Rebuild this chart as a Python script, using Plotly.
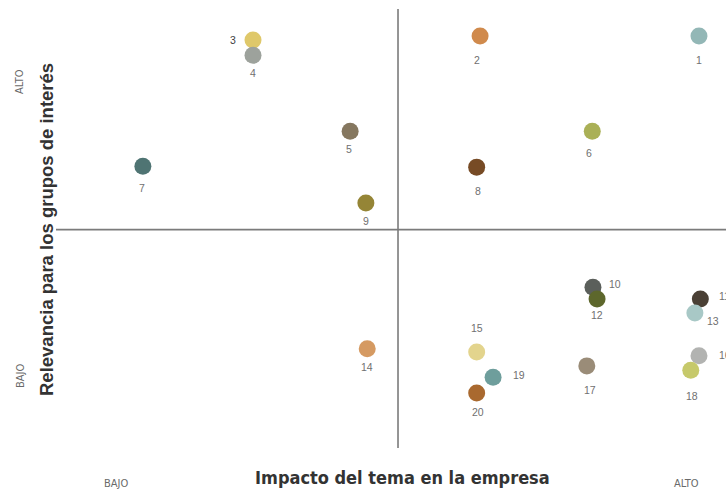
import plotly.graph_objects as go

# Materiality matrix: impact on the company (x) vs. relevance for stakeholders (y)
ids = [str(i) for i in range(1, 21)]
impacto = [9.40, 6.20, 2.88, 2.88, 4.30, 7.84, 1.27, 6.15, 4.53, 7.85,
           9.42, 7.91, 9.34, 4.55, 6.15, 9.40, 7.76, 9.28, 6.39, 6.15]
relevancia = [9.43, 9.43, 9.34, 8.99, 7.25, 7.25, 6.45, 6.43, 5.61, 3.68,
              3.41, 3.41, 3.09, 2.27, 2.20, 2.11, 1.88, 1.78, 1.62, 1.26]
colores = ["#93b7b6", "#d08a4c", "#dfc86a", "#9da29c", "#85775f",
           "#aab056", "#4f7473", "#774b25", "#958536", "#5b5f5b",
           "#4a4035", "#5d672c", "#a8c8c6", "#d59a62", "#e3d48d",
           "#b2b3b1", "#9a8c78", "#c6c96b", "#6e9e9c", "#a9692f"]
# label offsets from each marker, in pixels (right, down)
label_dx = [0, -3, -20, 0, -1, -3, -1, 1, 0, 22, 24, 0, 18, 0, 0, 26, 3, 1, 26, 1]
label_dy = [24, 24, 0, 18, 18, 22, 22, 24, 18, -3, -3, 16, 8, 18, -24, -1, 24, 26, -2, 19]

X_MAX = 9.795
Y_MAX = 10.05
MID = 5

W, H = 726, 493
ML, MR, MT, MB = 56, 0, 9, 45
pw, ph = W - ML - MR, H - MT - MB


def to_paper(px, py):
    return (px - ML) / pw, (H - MB - py) / ph


fig = go.Figure()

fig.add_trace(go.Scatter(
    x=impacto, y=relevancia, mode="markers",
    marker=dict(size=17, color=colores, line=dict(width=0), opacity=1),
    hoverinfo="skip", cliponaxis=False, showlegend=False,
))

# quadrant dividers
line_style = dict(color="#7b7b7b", width=1.6)
fig.add_shape(type="line", x0=MID, x1=MID, y0=0, y1=Y_MAX, xref="x", yref="y", line=line_style, layer="below")
fig.add_shape(type="line", x0=0, x1=X_MAX, y0=MID, y1=MID, xref="x", yref="y", line=line_style, layer="below")

# point labels
for i, lab in enumerate(ids):
    bold = lab == "3"
    fig.add_annotation(
        x=impacto[i], y=relevancia[i], xref="x", yref="y",
        text=lab, showarrow=False,
        xshift=label_dx[i], yshift=-label_dy[i],
        xanchor="center", yanchor="middle",
        font=dict(family="Liberation Sans, Arial, sans-serif", size=10.5,
                  color="#3f3f3f" if bold else "#707070"),
    )

cond = "Liberation Sans Narrow, DejaVu Sans Condensed, Roboto, sans-serif"

# axis titles
xp, yp = to_paper(402, 477)
fig.add_annotation(
    x=xp, y=yp, xref="paper", yref="paper", text="<b>Impacto del tema en la empresa</b>",
    showarrow=False, xanchor="center", yanchor="middle",
    font=dict(family=cond, size=18, color="#333333"),
)
xp, yp = to_paper(46, 230)
fig.add_annotation(
    x=xp, y=yp, xref="paper", yref="paper", text="<b>Relevancia para los grupos de interés</b>",
    showarrow=False, textangle=-90, xanchor="center", yanchor="middle",
    font=dict(family="Liberation Sans, Arial, sans-serif", size=18.5, color="#333333"),
)

# low / high scale hints
hint_font = dict(family=cond, size=11, color="#6a6a6a")
hints = [("BAJO", 116, 484, 0), ("ALTO", 686, 484, 0), ("ALTO", 20, 82, -90), ("BAJO", 20, 376, -90)]
for text, px, py, ang in hints:
    xp, yp = to_paper(px, py)
    fig.add_annotation(
        x=xp, y=yp, xref="paper", yref="paper", text=text, showarrow=False,
        textangle=ang, xanchor="center", yanchor="middle", font=hint_font,
    )

fig.update_layout(
    width=W, height=H,
    margin=dict(l=ML, r=MR, t=MT, b=MB, pad=0),
    paper_bgcolor="white", plot_bgcolor="white",
    xaxis=dict(range=[0, X_MAX], visible=False, fixedrange=True),
    yaxis=dict(range=[0, Y_MAX], visible=False, fixedrange=True),
    hovermode=False,
)

fig.write_html("out.html", config={"displayModeBar": False})
